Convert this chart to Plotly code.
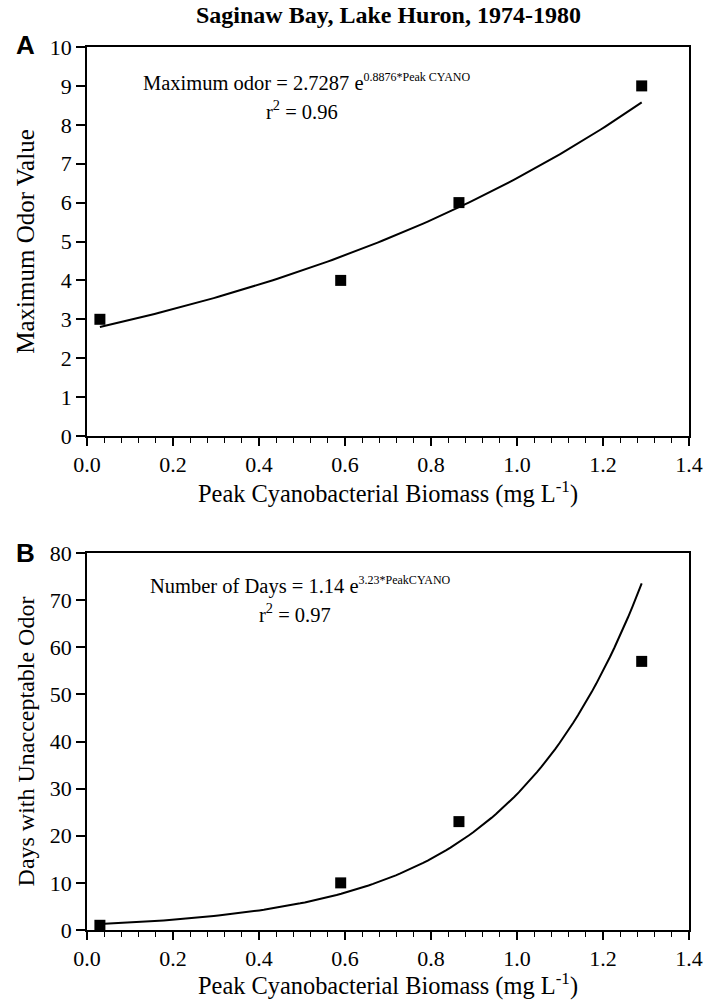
import numpy as np
import plotly.graph_objects as go

# Data
peak_cyano = [0.03, 0.59, 0.865, 1.29]
max_odor = [3, 4, 6, 9]
days_unacceptable = [1, 10, 23, 57]

# Fit coefficients as printed on the chart
fitA_a, fitA_b = 2.7287, 0.8876
fitB_a, fitB_b = 1.14, 3.23
fit_x = np.linspace(0.03, 1.29, 120)
fitA_y = fitA_a * np.exp(fitA_b * fit_x)
fitB_y = fitB_a * np.exp(fitB_b * fit_x)

x_ticks = [0.0, 0.2, 0.4, 0.6, 0.8, 1.0, 1.2, 1.4]

SERIF = "Liberation Serif"
SANS = "Liberation Sans"

M_T, M_B, M_L, M_R = 47, 70, 87, 15
plot_h = 1000 - M_T - M_B
plot_w = 704 - M_L - M_R
def py(pix):
    return (1000 - M_B - pix) / plot_h
def px(pix):
    return (pix - M_L) / plot_w

fig = go.Figure()
fig.add_trace(go.Scatter(x=fit_x, y=fitA_y, mode="lines", xaxis="x", yaxis="y",
                         line=dict(color="black", width=2), showlegend=False))
fig.add_trace(go.Scatter(x=peak_cyano, y=max_odor, mode="markers", xaxis="x", yaxis="y",
                         marker=dict(symbol="square", size=11, color="black"), showlegend=False))
fig.add_trace(go.Scatter(x=fit_x, y=fitB_y, mode="lines", xaxis="x2", yaxis="y2",
                         line=dict(color="black", width=2), showlegend=False))
fig.add_trace(go.Scatter(x=peak_cyano, y=days_unacceptable, mode="markers", xaxis="x2", yaxis="y2",
                         marker=dict(symbol="square", size=11, color="black"), showlegend=False))

def xaxis(anchor):
    return dict(
        anchor=anchor, domain=[0, 1], range=[0, 1.4],
        tickmode="array", tickvals=x_ticks, ticktext=[f"{v:.1f}" for v in x_ticks],
        ticks="outside", ticklen=8, tickwidth=1.5, tickcolor="black",
        minor=dict(dtick=0.04, ticks="outside", ticklen=5, tickcolor="black", tickwidth=1.2),
        showline=True, linecolor="black", linewidth=1.5, mirror=True,
        showgrid=False, zeroline=False, automargin=False,
        tickfont=dict(family=SERIF, size=22, color="black"),
        title=dict(text="Peak Cyanobacterial Biomass (mg L<sup>-1</sup>)",
                   font=dict(family=SERIF, size=24.4, color="black"), standoff=7),
    )

def yaxis(anchor, rng, dtick, domain, title, tsize):
    return dict(
        anchor=anchor, domain=domain, range=rng, dtick=dtick,
        ticks="outside", ticklen=9, tickwidth=1.5, tickcolor="black",
        showline=True, linecolor="black", linewidth=1.5, mirror=True,
        showgrid=False, zeroline=False, automargin=False,
        tickfont=dict(family=SERIF, size=22, color="black"),
        title=dict(text=title, font=dict(family=SERIF, size=tsize, color="black"), standoff=8),
    )

fig.update_layout(
    xaxis=xaxis("y"),
    xaxis2=xaxis("y2"),
    yaxis=yaxis("x", [0, 10], 1, [py(436), 1], "Maximum Odor Value", 25),
    yaxis2=yaxis("x2", [0, 80], 10, [0, py(553)], "Days with Unacceptable Odor", 24),
)

annots = [
    dict(text="<b>Saginaw Bay, Lake Huron, 1974-1980</b>", x=388, y=15, font=dict(family=SERIF, size=24)),
    dict(text="<b>A</b>", x=25, y=45, font=dict(family=SANS, size=26)),
    dict(text="<b>B</b>", x=25, y=553, font=dict(family=SANS, size=26)),
    dict(text="Maximum odor = 2.7287 e<sup><span style='font-size:12px'>0.8876*Peak CYANO</span></sup>",
         x=307, y=82, font=dict(family=SERIF, size=20.5)),
    dict(text="r<sup>2</sup> = 0.96", x=302, y=110, font=dict(family=SERIF, size=20.5)),
    dict(text="Number of Days = 1.14 e<sup><span style='font-size:12px'>3.23*PeakCYANO</span></sup>",
         x=300, y=586, font=dict(family=SERIF, size=20.5)),
    dict(text="r<sup>2</sup> = 0.97", x=295, y=613, font=dict(family=SERIF, size=20.5)),
]
for a in annots:
    fig.add_annotation(text=a["text"], xref="paper", yref="paper",
                       x=px(a["x"]), y=py(a["y"]),
                       xanchor="center", yanchor="middle", showarrow=False,
                       font=dict(color="black", **a["font"]))

fig.update_layout(width=704, height=1000, margin=dict(l=M_L, r=M_R, t=M_T, b=M_B),
                  font=dict(family=SERIF, color="black"),
                  paper_bgcolor="white", plot_bgcolor="white")

fig.write_html("out.html")
